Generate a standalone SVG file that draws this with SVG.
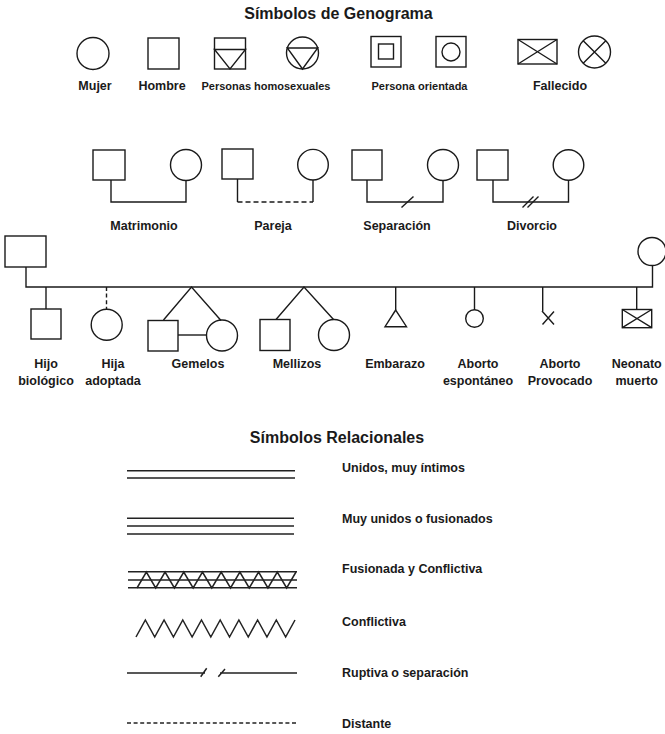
<svg xmlns="http://www.w3.org/2000/svg" width="665" height="734" viewBox="0 0 665 734">
<style>
.s{fill:none;stroke:#1a1a1a;stroke-width:1.4}
.w{fill:#fff;stroke:#1a1a1a;stroke-width:1.4}
.r{fill:none;stroke:#222;stroke-width:1.5}
.d{stroke-dasharray:5 3}
.dd{stroke-dasharray:4 2.6}
text{font-family:"Liberation Sans",Arial,sans-serif;font-weight:bold;fill:#1a1a1a;text-anchor:middle;font-size:12.5px}
.h{font-size:16px}
.sm{font-size:11px}
.l{text-anchor:start}
</style>
<rect width="665" height="734" fill="#fff"/>
<text class="h" x="338.5" y="18.5">Símbolos de Genograma</text>

<!-- Row 1: symbols -->
<g id="mujer"><circle class="s" cx="93" cy="53.5" r="16"/><text x="95" y="89.5">Mujer</text></g>
<g id="hombre"><rect class="s" x="148" y="38" width="31" height="31"/><text x="162" y="89.5">Hombre</text></g>
<g id="homosexual-hombre"><rect class="s" x="214.5" y="38" width="31" height="31"/><path class="s" d="M214.5,49.5H245.5L230,69Z"/></g>
<g id="homosexual-mujer"><circle class="s" cx="302.5" cy="53" r="16"/><path class="s" d="M287.3,48H317.7L302.5,69Z"/></g>
<text class="sm" x="266" y="89.5">Personas homosexuales</text>
<g id="orientada-hombre"><rect class="s" x="371" y="36.5" width="30" height="30.5"/><rect class="s" x="378.5" y="44" width="15" height="15"/></g>
<g id="orientada-mujer"><rect class="s" x="436" y="36.5" width="30" height="30.5"/><circle class="s" cx="451" cy="52" r="9"/></g>
<text class="sm" x="419.5" y="89.5">Persona orientada</text>
<g id="fallecido-hombre"><rect class="s" x="518" y="39.5" width="39" height="24.5"/><path class="s" d="M518,39.5L557,64M557,39.5L518,64"/></g>
<g id="fallecido-mujer"><circle class="s" cx="594.5" cy="52" r="16"/><path class="s" d="M583.2,40.7L605.8,63.3M605.8,40.7L583.2,63.3"/></g>
<text x="560" y="89.5">Fallecido</text>

<!-- Row 2: couples -->
<g id="connectors">
<path class="s" d="M111,180V202H186V180.5"/>
<path class="s" d="M237.5,179V202M313,180V202"/>
<path class="s d" d="M237.5,202H313"/>
<path class="s" d="M367,180V202H443V180.5"/>
<path class="s" d="M401.5,207.5L413.5,196.5"/>
<path class="s" d="M493,180V202H568.5V180.5"/>
<path class="s" d="M522.5,207.5L533.5,196.5M527.5,207.5L538.5,196.5"/>
<!-- family -->
<path class="s" d="M26,267V287H652.5V265.5"/>
<path class="s" d="M46,287V309"/>
<path class="s dd" d="M106.5,287V309"/>
<path class="s" d="M163.5,320L191.5,287L221,320.5"/>
<path class="s" d="M178,335H207"/>
<path class="s" d="M276,319.5L304,287L333.5,319.5"/>
<path class="s" d="M395.7,287V310"/>
<path class="s" d="M474.5,287V310"/>
<path class="s" d="M542.7,287V311"/>
<path class="s" d="M636.7,287V309.5"/>
</g>
<g id="matrimonio"><rect class="s" x="93" y="150" width="32" height="30"/><circle class="s" cx="186" cy="165" r="15.5"/><text x="144" y="230">Matrimonio</text></g>
<g id="pareja"><rect class="s" x="222" y="149" width="31" height="30"/><circle class="s" cx="313" cy="164.7" r="15.3"/><text x="273" y="230">Pareja</text></g>
<g id="separacion"><rect class="s" x="352" y="150" width="30" height="30"/><circle class="s" cx="443" cy="165" r="15.5"/><text x="397" y="230">Separación</text></g>
<g id="divorcio"><rect class="s" x="477" y="150" width="31" height="30"/><circle class="s" cx="568.5" cy="165" r="15.3"/><text x="532" y="230">Divorcio</text></g>

<!-- Row 3: family -->
<g id="padre"><rect class="s" x="5" y="236" width="41" height="31"/></g>
<g id="madre"><circle class="s" cx="652" cy="251.5" r="14"/></g>
<g id="hijo-biologico"><rect class="s" x="31" y="309" width="30" height="30"/><text x="46" y="368">Hijo</text><text x="46" y="385">biológico</text></g>
<g id="hija-adoptada"><circle class="s" cx="106.7" cy="324.7" r="15.5"/><text x="113" y="368">Hija</text><text x="113" y="385">adoptada</text></g>
<g id="gemelos"><rect class="s" x="148" y="320.5" width="30" height="30.5"/><circle class="s" cx="222" cy="335.5" r="15.5"/><text x="198" y="368">Gemelos</text></g>
<g id="mellizos"><rect class="s" x="260" y="319.5" width="30" height="31"/><circle class="s" cx="334" cy="335" r="15.5"/><text x="297" y="368">Mellizos</text></g>
<g id="embarazo"><path class="s" d="M395.7,310L385,326.7H406.5Z"/><text x="395" y="368">Embarazo</text></g>
<g id="aborto-espontaneo"><circle class="s" cx="474.5" cy="318.5" r="8.8"/><text x="478" y="368">Aborto</text><text x="478" y="385">espontáneo</text></g>
<g id="aborto-provocado"><path class="s" d="M542,311L554,324.5M554,311.5L542.5,324.5"/><text x="560" y="368">Aborto</text><text x="560" y="385">Provocado</text></g>
<g id="neonato-muerto"><rect class="s" x="622.3" y="309.5" width="29.4" height="18.2"/><path class="s" d="M622.3,309.5L651.7,327.7M651.7,309.5L622.3,327.7"/><text x="636.7" y="368">Neonato</text><text x="636.7" y="385">muerto</text></g>

<!-- Relational -->
<text class="h" x="337" y="443">Símbolos Relacionales</text>
<g id="rel-unidos"><path class="r" d="M127,470.7H295M127,478H295"/><text class="l" x="342" y="472">Unidos, muy íntimos</text></g>
<g id="rel-muy-unidos"><path class="r" d="M127,518.3H294M127,526H294M127,534H294"/><text class="l" x="342" y="523">Muy unidos o fusionados</text></g>
<g id="rel-fusionada"><path class="r" d="M128,571.7H297M128,580H297M128,587.7H297"/><polyline class="r" points="137,588 146.35,572 155.71,588 165.06,572 174.41,588 183.76,572 193.12,588 202.47,572 211.82,588 221.18,572 230.53,588 239.88,572 249.24,588 258.59,572 267.94,588 277.29,572 286.65,588 296,572"/><text class="l" x="342" y="573">Fusionada y Conflictiva</text></g>
<g id="rel-conflictiva"><polyline class="r" points="136,637 145.35,620 154.71,637 164.06,620 173.41,637 182.76,620 192.12,637 201.47,620 210.82,637 220.18,620 229.53,637 238.88,620 248.24,637 257.59,620 266.94,637 276.29,620 285.65,637 295,620"/><text class="l" x="342" y="626">Conflictiva</text></g>
<g id="rel-ruptiva"><path class="r" d="M127,673H205M200.7,676.7L206.7,668.3M220,673H297M218.3,676.7L225,669"/><text class="l" x="342" y="677">Ruptiva o separación</text></g>
<g id="rel-distante"><path class="r dd" d="M127,723H297"/><text class="l" x="342" y="727.5">Distante</text></g>
</svg>
